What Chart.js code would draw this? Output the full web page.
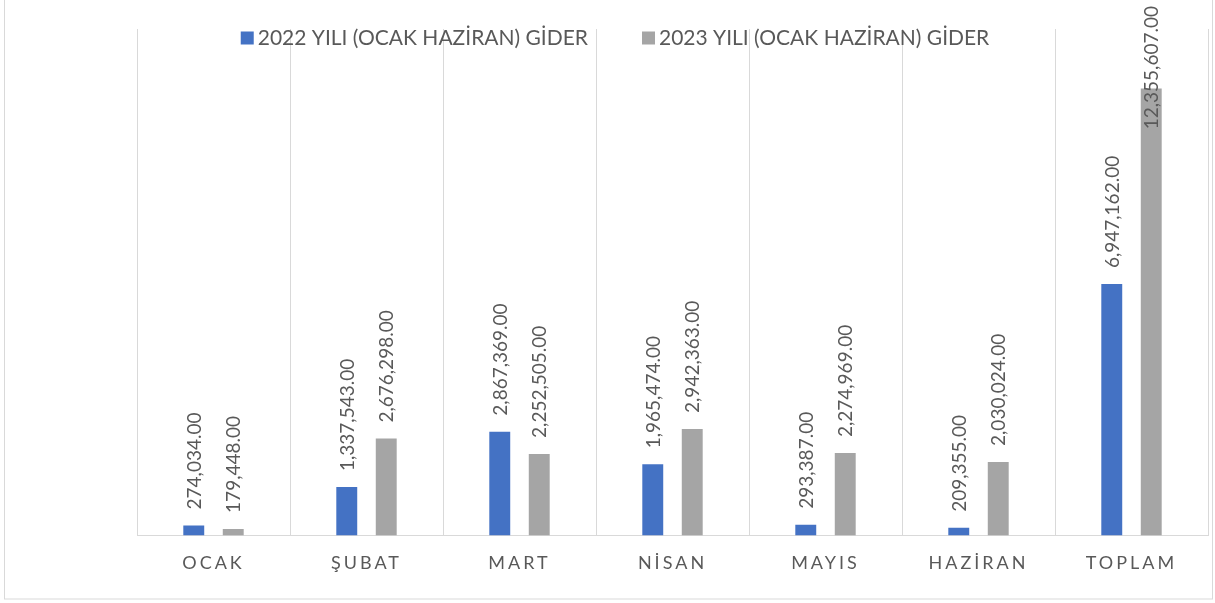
<!DOCTYPE html>
<html>
<head>
<meta charset="utf-8">
<script src="https://cdn.jsdelivr.net/npm/chart.js@4/dist/chart.umd.min.js"></script>
<style>
  html, body { margin: 0; padding: 0; background: #fff; }
  #wrap { position: relative; width: 1215px; height: 603px; }
</style>
</head>
<body>
<div id="wrap"><canvas id="chart" width="1215" height="603"></canvas></div>
<script>
const categories = ["OCAK", "ŞUBAT", "MART", "NİSAN", "MAYIS", "HAZİRAN", "TOPLAM"];
const seriesNames = ["2022 YILI (OCAK HAZİRAN) GİDER", "2023 YILI (OCAK HAZİRAN) GİDER"];
const gider2022 = [274034, 1337543, 2867369, 1965474, 293387, 209355, 6947162];
const gider2023 = [179448, 2676298, 2252505, 2942363, 2274969, 2030024, 12355607];
const yMax = 14000000;

const BLUE = "#4472C4";
const GREY = "#A5A5A5";
const TEXT = "#595959";
const LINE = "#D9D9D9";
const FONT = "Lato";

const fmt = (v) =>
  v.toLocaleString("en-US", { minimumFractionDigits: 2, maximumFractionDigits: 2 });

// border round the whole chart + letter spacing for the category ticks
const framePlugin = {
  id: "frame",
  beforeDraw(chart) {
    const ctx = chart.ctx;
    ctx.save();
    ctx.fillStyle = "#fff";
    ctx.fillRect(0, 0, chart.width, chart.height);
    ctx.strokeStyle = LINE;
    ctx.lineWidth = 1;
    ctx.strokeRect(4.5, -2, 1208, 601);
    ctx.restore();
    ctx.letterSpacing = "3px";
  },
  beforeDatasetsDraw(chart) {
    chart.ctx.letterSpacing = "0px";
  },
};

// vertical value labels above each bar
const valueLabels = {
  id: "valueLabels",
  afterDatasetsDraw(chart) {
    const ctx = chart.ctx;
    ctx.save();
    ctx.letterSpacing = "0px";
    ctx.font = `19px ${FONT}`;
    ctx.fillStyle = TEXT;
    ctx.textAlign = "left";
    ctx.textBaseline = "middle";
    chart.data.datasets.forEach((ds, di) => {
      chart.getDatasetMeta(di).data.forEach((bar, i) => {
        const txt = fmt(ds.data[i]);
        const w = ctx.measureText(txt).width;
        let y0 = bar.y - 16;
        if (y0 - w < 6) y0 = 6 + w;
        ctx.save();
        ctx.translate(bar.x + 1, y0);
        ctx.rotate(-Math.PI / 2);
        ctx.fillText(txt, 0, 0);
        ctx.restore();
      });
    });
    ctx.restore();
  },
};

// legend drawn over the plot, centred on the whole chart
const legendBox = {
  id: "legendBox",
  afterDraw(chart) {
    const ctx = chart.ctx;
    ctx.save();
    ctx.letterSpacing = "0px";
    ctx.font = `21px ${FONT}`;
    ctx.fillStyle = TEXT;
    ctx.textBaseline = "middle";
    ctx.textAlign = "left";
    const box = 13, gapIn = 4, gapOut = 54;
    const items = chart.data.datasets.map((ds) => ({
      label: ds.label,
      color: ds.backgroundColor,
      w: ctx.measureText(ds.label).width,
    }));
    const total = items.reduce((s, it) => s + box + gapIn + it.w, 0) + gapOut * (items.length - 1);
    let x = 615 - total / 2;
    const y = 38;
    items.forEach((it) => {
      ctx.fillStyle = it.color;
      ctx.fillRect(x, y - box / 2, box, box);
      ctx.fillStyle = TEXT;
      ctx.fillText(it.label, x + box + gapIn, y);
      x += box + gapIn + it.w + gapOut;
    });
    ctx.restore();
  },
};

new Chart(document.getElementById("chart"), {
  type: "bar",
  data: {
    labels: categories,
    datasets: [
      { label: seriesNames[0], data: gider2022, backgroundColor: BLUE },
      { label: seriesNames[1], data: gider2023, backgroundColor: GREY },
    ],
  },
  options: {
    responsive: false,
    animation: false,
    datasets: {
      bar: { categoryPercentage: 0.516, barPercentage: 0.53 },
    },
    layout: { padding: { left: 137, right: 7, top: 29, bottom: 12 } },
    plugins: {
      legend: { display: false },
      tooltip: { enabled: false },
    },
    scales: {
      x: {
        grid: { color: LINE, lineWidth: 1, offset: true, drawTicks: false },
        border: { display: true, color: LINE, width: 1 },
        ticks: {
          color: TEXT,
          font: { family: FONT, size: 18 },
          padding: 17,
          maxRotation: 0,
        },
      },
      y: {
        display: false,
        min: 0,
        max: yMax,
      },
    },
  },
  plugins: [framePlugin, valueLabels, legendBox],
});
</script>
</body>
</html>
